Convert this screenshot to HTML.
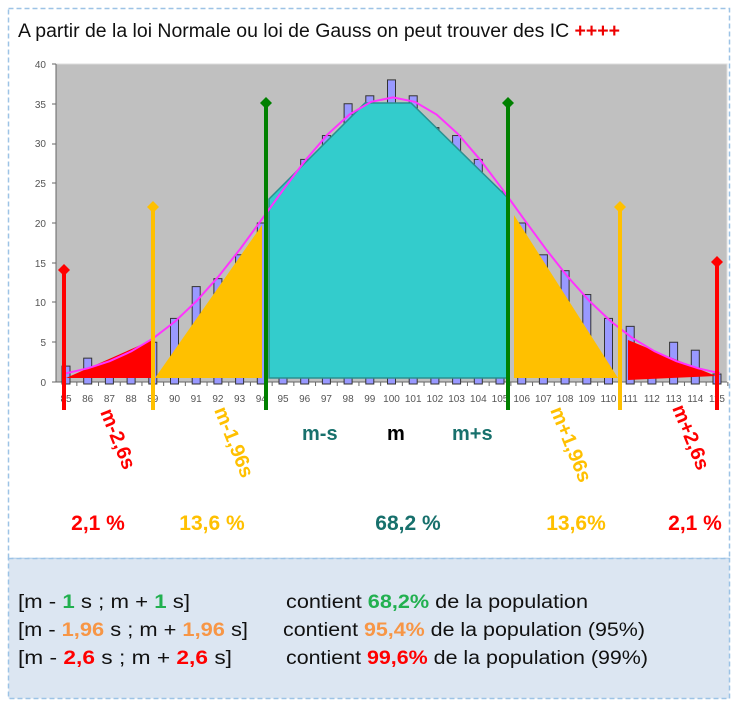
<!DOCTYPE html>
<html><head><meta charset="utf-8"><style>
body{margin:0;background:#fff;width:741px;height:705px;overflow:hidden;font-family:"Liberation Sans",sans-serif}
</style></head><body>
<svg width="741" height="705" xmlns="http://www.w3.org/2000/svg" font-family="Liberation Sans, sans-serif">
<rect x="8.5" y="8.5" width="721" height="550" fill="#fff" stroke="#9dc3e6" stroke-width="1.5" stroke-dasharray="5,3"/>
<rect x="8.5" y="558.5" width="721" height="140" fill="#dce6f2" stroke="#9dc3e6" stroke-width="1.5" stroke-dasharray="5,3"/>
<text x="18" y="37" font-size="19" fill="#111" textLength="602" lengthAdjust="spacingAndGlyphs">A partir de la loi Normale ou loi de Gauss on peut trouver des IC <tspan fill="#e00" font-weight="bold">++++</tspan></text>
<rect x="56" y="64" width="671" height="318" fill="#c0c0c0" stroke="#ddd"/>
<g font-size="10" fill="#555" text-anchor="end">
<text x="46" y="386">0</text><text x="46" y="346">5</text><text x="46" y="306">10</text><text x="46" y="267">15</text><text x="46" y="227">20</text><text x="46" y="187">25</text><text x="46" y="147">30</text><text x="46" y="108">35</text><text x="46" y="68">40</text>
</g>
<line x1="56" y1="64" x2="56" y2="382" stroke="#666"/>
<line x1="56" y1="382" x2="727" y2="382" stroke="#666"/>
<g stroke="#666">
<line x1="52" y1="382" x2="56" y2="382"/><line x1="52" y1="342" x2="56" y2="342"/><line x1="52" y1="302" x2="56" y2="302"/><line x1="52" y1="263" x2="56" y2="263"/><line x1="52" y1="223" x2="56" y2="223"/><line x1="52" y1="183" x2="56" y2="183"/><line x1="52" y1="144" x2="56" y2="144"/><line x1="52" y1="104" x2="56" y2="104"/><line x1="52" y1="64" x2="56" y2="64"/>
</g>
<g id="bars" fill="#9999ff" stroke="#333" stroke-width="1"></g>
<g id="ticks" stroke="#666"></g>
<g id="xl" font-size="10" fill="#555" text-anchor="middle"></g>
<polygon points="66,378 152,340 152,378" fill="#ff0000"/>
<polygon points="155,378 262,225 262,378" fill="#ffc000"/>
<polygon points="269,378 269,199 365,103 411,103 507,197 507,378" fill="#33cccc" stroke="#2a9090" stroke-width="1.5"/>
<polygon points="514,215 514,378 618,378" fill="#ffc000"/>
<polygon points="628,340 628,380 716,376" fill="#ff0000"/>
<polyline fill="none" stroke="#ff33ff" stroke-width="2" points="66,373.3 87.8,368.3 109.6,361.2 131.4,351.3 153.2,338.3 175,321.5 196.8,300.8 218.6,276.4 240.4,248.7 262.2,218.9 284,188.7 305.8,159.8 327.6,134.4 349.4,114.5 371.2,101.8 393,97.4 414.8,101.8 436.6,114.5 458.4,134.4 480.2,159.8 502,188.7 523.8,218.9 545.6,248.7 567.4,276.4 589.2,300.8 611,321.5 632.8,338.3 654.6,351.3 676.4,361.2 698.2,368.3 720,373.3"/>
<g stroke-width="4">
<line x1="64" y1="270" x2="64" y2="410" stroke="#ff0000"/>
<line x1="153" y1="207" x2="153" y2="410" stroke="#ffc000"/>
<line x1="266" y1="103" x2="266" y2="410" stroke="#008000"/>
<line x1="508" y1="103" x2="508" y2="410" stroke="#008000"/>
<line x1="620" y1="207" x2="620" y2="410" stroke="#ffc000"/>
<line x1="717" y1="262" x2="717" y2="410" stroke="#ff0000"/>
</g>
<polygon points="64,264 70,270 64,276 58,270" fill="#ff0000"/>
<polygon points="153,201 159,207 153,213 147,207" fill="#ffc000"/>
<polygon points="266,97 272,103 266,109 260,103" fill="#008000"/>
<polygon points="508,97 514,103 508,109 502,103" fill="#008000"/>
<polygon points="620,201 626,207 620,213 614,207" fill="#ffc000"/>
<polygon points="717,256 723,262 717,268 711,262" fill="#ff0000"/>
<g font-weight="bold" font-size="20">
<text transform="translate(100,412) rotate(68)" fill="#ff0000">m-2,6s</text>
<text transform="translate(214,410) rotate(68)" fill="#ffc000">m-1,96s</text>
<text transform="translate(550,410) rotate(68)" fill="#ffc000">m+1,96s</text>
<text transform="translate(672,408) rotate(68)" fill="#ff0000">m+2,6s</text>
<text x="302" y="440" fill="#17706c">m-s</text>
<text x="387" y="440" fill="#000">m</text>
<text x="452" y="440" fill="#17706c">m+s</text>
</g>
<g font-weight="bold" font-size="21" text-anchor="middle">
<text x="98" y="530" fill="#ff0000">2,1 %</text>
<text x="212" y="530" fill="#ffc000">13,6 %</text>
<text x="408" y="530" fill="#17706c">68,2 %</text>
<text x="576" y="530" fill="#ffc000">13,6%</text>
<text x="695" y="530" fill="#ff0000">2,1 %</text>
</g>
<g font-size="19" fill="#111" xml:space="preserve" style="white-space:pre">
<text x="18" y="608" textLength="172" lengthAdjust="spacingAndGlyphs">[m - <tspan fill="#22b050" font-weight="bold">1</tspan> s  ;  m + <tspan fill="#22b050" font-weight="bold">1</tspan> s]</text>
<text x="286" y="608" textLength="302" lengthAdjust="spacingAndGlyphs">contient <tspan fill="#22b050" font-weight="bold">68,2%</tspan> de la population</text>
<text x="18" y="636" textLength="230" lengthAdjust="spacingAndGlyphs">[m - <tspan fill="#f79646" font-weight="bold">1,96</tspan> s  ;  m + <tspan fill="#f79646" font-weight="bold">1,96</tspan> s]</text>
<text x="283" y="636" textLength="362" lengthAdjust="spacingAndGlyphs">contient <tspan fill="#f79646" font-weight="bold">95,4%</tspan> de la population (95%)</text>
<text x="18" y="664" textLength="214" lengthAdjust="spacingAndGlyphs">[m - <tspan fill="#ff0000" font-weight="bold">2,6</tspan> s   ;  m + <tspan fill="#ff0000" font-weight="bold">2,6</tspan> s]</text>
<text x="286" y="664" textLength="362" lengthAdjust="spacingAndGlyphs">contient <tspan fill="#ff0000" font-weight="bold">99,6%</tspan> de la population (99%)</text>
</g>
<script>
var v=[2,3,1,1,5,8,12,13,16,20,24,28,31,35,36,38,36,32,31,28,24,20,16,14,11,8,7,1,5,4,1];
var ns="http://www.w3.org/2000/svg",b=document.getElementById('bars'),t=document.getElementById('ticks'),xl=document.getElementById('xl');
for(var i=0;i<31;i++){var x=66+i*21.7,h=v[i]*7.95;
var r=document.createElementNS(ns,'rect');r.setAttribute('x',x-4);r.setAttribute('y',382-h);r.setAttribute('width',8);r.setAttribute('height',h+2);b.appendChild(r);
var l=document.createElementNS(ns,'line');l.setAttribute('x1',x+10.85);l.setAttribute('x2',x+10.85);l.setAttribute('y1',382);l.setAttribute('y2',386);t.appendChild(l);
var tx=document.createElementNS(ns,'text');tx.setAttribute('x',x);tx.setAttribute('y',402);tx.textContent=85+i;xl.appendChild(tx);}
</script>
</svg>
</body></html>
